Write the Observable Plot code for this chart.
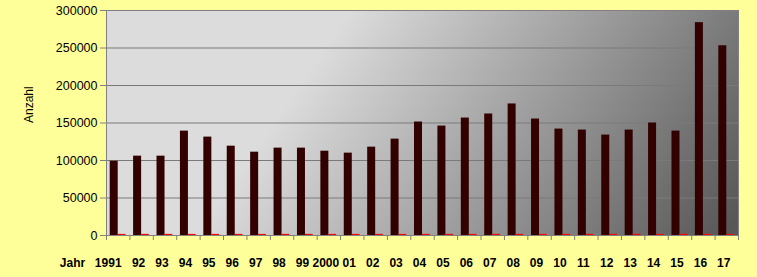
<!DOCTYPE html>
<html><head><meta charset="utf-8">
<script src="https://cdn.jsdelivr.net/npm/d3@7"></script>
<script src="https://cdn.jsdelivr.net/npm/@observablehq/plot@0.6"></script>
<style>
html,body{margin:0;padding:0;background:#FFFF99;}
svg{display:block;}
</style></head><body><div id="chart"></div>
<script>
const categories = ["1991","92","93","94","95","96","97","98","99","2000","01","02","03","04","05","06","07","08","09","10","11","12","13","14","15","16","17"];
const anzahl = [99000,105800,105800,139200,131200,119100,111100,116500,116500,112400,109800,117800,128500,151300,145900,156600,162000,175400,155300,141900,140600,133900,140600,150000,139200,283800,253000];
const zweite = [1500,1500,1500,1500,1500,1500,1500,1500,1500,1500,1500,1500,1500,1500,1500,1500,1500,1500,1500,1500,1500,1500,1500,1500,1500,1500,1500];
const yTicks = [0,50000,100000,150000,200000,250000,300000];
const xTitle = "Jahr";
const yTitle = "Anzahl";

const n = categories.length;
const data = categories.map((c, i) => ({i, label: c, a: anzahl[i], b: zweite[i]}));
const font = "'Liberation Sans', Arial, sans-serif";

const plot = Plot.plot({
  width: 757, height: 277,
  marginLeft: 106, marginRight: 19, marginTop: 10, marginBottom: 42,
  style: {background: "#FFFF99", fontFamily: font, color: "#000", overflow: "visible"},
  x: {type: "linear", domain: [0, n]},
  y: {domain: [0, 300000]},
  marks: [
    Plot.frame({fill: "#DCDCDC", stroke: null}),
    Plot.gridY(yTicks, {stroke: "#7a7a7a", strokeOpacity: 1}),
    Plot.rectY(data, {x1: "i", x2: d => d.i + 1, y: "a", fill: "#330000", insetLeft: 3.7, insetRight: 11.7}),
    Plot.rectY(data, {x1: "i", x2: d => d.i + 1, y: "b", fill: "#FF0000", insetLeft: 11.7, insetRight: 4}),
    Plot.frame({stroke: "#808080"}),
    Plot.axisY(yTicks, {tickSize: 6, tickPadding: 3, tickFormat: d => String(d), stroke: "#808080", fill: "#000", fontSize: 12.5, label: null}),
    Plot.axisX(d3.range(n + 1), {tickSize: 5, tickFormat: () => "", stroke: "#808080", label: null}),
    Plot.axisX([0.5], {tickSize: 0, tickPadding: 23, tickFormat: d => categories[Math.floor(d)], fontWeight: "bold", fontSize: 12, fill: "#000", dx: -10, label: null}),
    Plot.axisX(d3.range(1, n).map(i => i + 0.5), {tickSize: 0, tickPadding: 23, tickFormat: d => categories[Math.floor(d)], fontWeight: "bold", fontSize: 12, fill: "#000", dx: -3, label: null}),
    Plot.text([xTitle], {frameAnchor: "bottom-left", text: d => d, textAnchor: "middle", lineAnchor: "middle", dx: -34, dy: 28, fontWeight: "bold", fontSize: 12, fill: "#000"}),
    Plot.text([yTitle], {frameAnchor: "left", text: d => d, rotate: -90, dx: -77, fontSize: 12, fill: "#000"})
  ]
});

// diagonal gradient background for the plot area
const ns = "http://www.w3.org/2000/svg";
const defs = document.createElementNS(ns, "defs");
const grad = document.createElementNS(ns, "linearGradient");
grad.setAttribute("id", "bgGrad");
grad.setAttribute("gradientUnits", "userSpaceOnUse");
grad.setAttribute("x1", "292"); grad.setAttribute("y1", "94");
grad.setAttribute("x2", "653"); grad.setAttribute("y2", "339");
[["0", "#DCDCDC"], ["1", "#585858"]].forEach(([o, c]) => {
  const s = document.createElementNS(ns, "stop");
  s.setAttribute("offset", o); s.setAttribute("stop-color", c);
  grad.appendChild(s);
});
defs.appendChild(grad);
plot.insertBefore(defs, plot.firstChild);
const frameRect = plot.querySelector('[aria-label="frame"] rect') || plot.querySelector('[aria-label="frame"]');
if (frameRect) frameRect.setAttribute("fill", "url(#bgGrad)");

document.getElementById("chart").appendChild(plot);
</script>
</body></html>
